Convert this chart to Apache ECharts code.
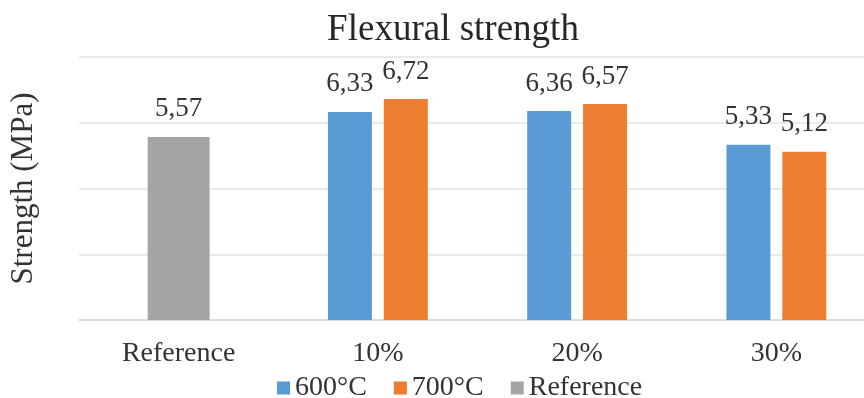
<!DOCTYPE html>
<html>
<head>
<meta charset="utf-8">
<title>Flexural strength</title>
<script src="https://cdn.jsdelivr.net/npm/echarts@6/dist/echarts.min.js"></script>
<style>
html, body { margin: 0; padding: 0; background: #fff; overflow: hidden; }
/* the plot runs off the right edge in the original, so the canvas is a bit wider than the window */
#main { width: 890px; height: 398px; }
</style>
</head>
<body>
<div id="main"></div>
<script>
// data
var categories = ['Reference', '10%', '20%', '30%'];
var s600 = [null, 6.33, 6.36, 5.33];
var s700 = [null, 6.72, 6.57, 5.12];
var sRef = [5.57, null, null, null];

var serif = 'Liberation Serif, Times New Roman, serif';
var fmt = function (p) { return p.value.toFixed(2).replace('.', ','); };
var lbl = { show: true, position: 'top', distance: 14, fontFamily: serif, fontSize: 27, color: '#333' };

var myChart = echarts.init(document.getElementById('main'));

var option = {
    animation: false,
    title: {
        text: 'Flexural strength',
        left: 448, top: 7, textAlign: 'center',
        textStyle: { fontFamily: serif, fontSize: 37, fontWeight: 'normal', color: '#262626' }
    },
    legend: {
        top: 369, left: 272,
        itemWidth: 13, itemHeight: 13, itemGap: 27,
        icon: 'rect',
        textStyle: { fontFamily: serif, fontSize: 28, color: '#333' },
        data: ['600°C', '700°C', 'Reference']
    },
    grid: { left: 76, top: 57, width: 800, height: 263 },
    xAxis: [{
        type: 'category',
        data: categories,
        axisLine: { lineStyle: { color: '#d9d9d9', width: 1.5 } },
        axisTick: { show: false },
        axisLabel: { fontFamily: serif, fontSize: 28, color: '#333', margin: 20 }
    }, {
        type: 'category',
        data: categories,
        show: false
    }],
    yAxis: {
        type: 'value',
        min: 0, max: 8, interval: 2,
        name: 'Strength (MPa)',
        nameLocation: 'middle',
        nameGap: 40,
        nameTextStyle: { fontFamily: serif, fontSize: 31, color: '#333' },
        axisLabel: { show: false },
        axisLine: { show: false },
        axisTick: { show: false },
        splitLine: { lineStyle: { color: '#e3e3e3', width: 1.5 } }
    },
    series: [{
        name: '600°C', type: 'bar', xAxisIndex: 0,
        data: s600, barWidth: 44, barGap: '27%',
        itemStyle: { color: '#5B9BD5' },
        label: Object.assign({ formatter: fmt }, lbl)
    }, {
        name: '700°C', type: 'bar', xAxisIndex: 0,
        data: s700, barWidth: 44,
        itemStyle: { color: '#ED7D31' },
        label: Object.assign({ formatter: fmt }, lbl)
    }, {
        name: 'Reference', type: 'bar', xAxisIndex: 1,
        data: sRef, barWidth: 62,
        itemStyle: { color: '#A5A5A5' },
        label: Object.assign({ formatter: fmt }, lbl)
    }]
};

myChart.setOption(option);
</script>
</body>
</html>
